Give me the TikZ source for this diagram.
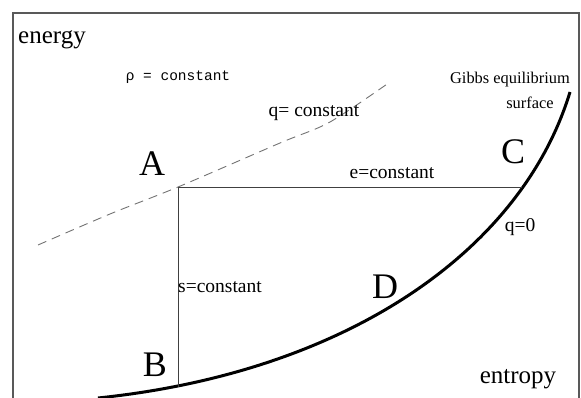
\documentclass[tikz,border=0pt]{standalone}
\usepackage{fontspec}
\setmainfont{Liberation Serif}
\setmonofont{Liberation Mono}
\usetikzlibrary{positioning}

\begin{document}
\begin{tikzpicture}[
    x=1pt, y=-1pt,
    frame/.style={draw=black!65, line width=1.4pt},
    gibbs/.style={draw=black, line width=3pt},
    path/.style={draw=black!75, line width=0.9pt},
    density/.style={draw=black!55, line width=0.9pt, dash pattern=on 9pt off 6pt},
    point/.style={font=\fontsize{36}{36}\selectfont, inner sep=0pt},
    axis/.style={font=\fontsize{25}{25}\selectfont, inner sep=0pt},
    label/.style={font=\fontsize{19.5}{20}\selectfont, inner sep=0pt}
]
\useasboundingbox (0,0) rectangle (581,398);

% Frame
\draw[frame] (13,402) -- (13,13) -- (579,13) -- (579,402);

% States
\coordinate (A) at (178,187);
\coordinate (B) at (178,387);
\coordinate (C) at (522,187);

% Gibbs equilibrium surface
\draw[gibbs] (98,398) .. controls (348,372) and (522,250) .. (570,92);

% rho = constant
\draw[density] plot[smooth] coordinates {(38,245) (110,214) (A) (280,143) (330,122) (390,82)};

% Processes
\draw[path] (A) -- (C);
\draw[path] (A) -- (B);

% Labels
\node[axis] (energy) at (52,40) {energy};
\node[axis] (entropy) at (518,379) {entropy};
\node[point] (lA) at (152,164) {A};
\node[point] (lB) at (155,365) {B};
\node[point] (lC) at (513,152) {C};
\node[point] (lD) at (385,287) {D};
\node[inner sep=0pt, font=\ttfamily\fontsize{14.5}{15}\selectfont] (rho) at (178,77) {ρ = constant};
\node[label] (qconst) at (314,113) {q= constant};
\node[label] (econst) at (392,173) {e=constant};
\node[label] (sconst) at (220,287) {s=constant};
\node[label] (qzero) at (520,227) {q=0};
\node[inner sep=0pt, font=\fontsize{16.4}{17}\selectfont] (gibbs) at (510,80) {Gibbs equilibrium};
\node[inner sep=0pt, font=\fontsize{16.4}{17}\selectfont] (surf) at (530,103) {surface};
\end{tikzpicture}
\end{document}
